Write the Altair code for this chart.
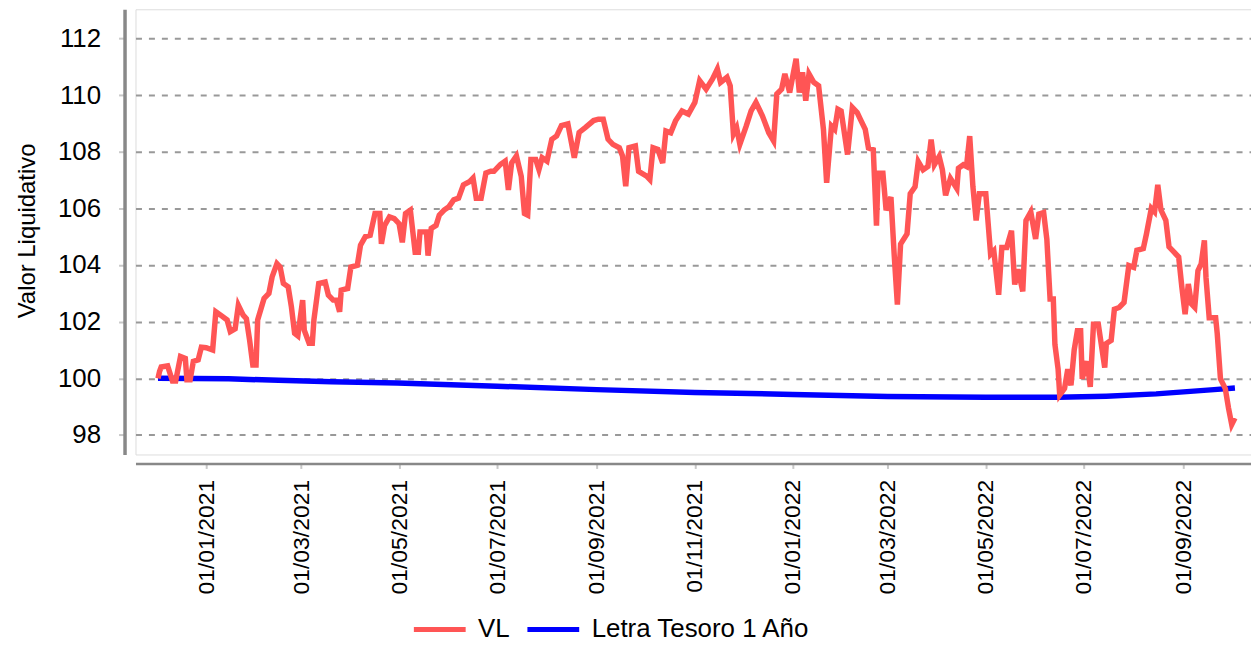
import altair as alt
import pandas as pd

# ---- VL (valor liquidativo) series ----
vl_dates = [
    "2020-12-02", "2020-12-03", "2020-12-04", "2020-12-08", "2020-12-11", "2020-12-13",
    "2020-12-16", "2020-12-19", "2020-12-20", "2020-12-22", "2020-12-24", "2020-12-27",
    "2020-12-29", "2021-01-01", "2021-01-05", "2021-01-07", "2021-01-10", "2021-01-14",
    "2021-01-16", "2021-01-19", "2021-01-21", "2021-01-24", "2021-01-26", "2021-01-28",
    "2021-01-30", "2021-02-01", "2021-02-02", "2021-02-06", "2021-02-09", "2021-02-11",
    "2021-02-14", "2021-02-16", "2021-02-18", "2021-02-21", "2021-02-23", "2021-02-25",
    "2021-02-27", "2021-03-02", "2021-03-03", "2021-03-06", "2021-03-08", "2021-03-09",
    "2021-03-12", "2021-03-16", "2021-03-18", "2021-03-21", "2021-03-23", "2021-03-25",
    "2021-03-26", "2021-03-30", "2021-04-01", "2021-04-05", "2021-04-07", "2021-04-10",
    "2021-04-13", "2021-04-16", "2021-04-19", "2021-04-20", "2021-04-22", "2021-04-25",
    "2021-04-28", "2021-05-01", "2021-05-03", "2021-05-05", "2021-05-08", "2021-05-11",
    "2021-05-13", "2021-05-14", "2021-05-18", "2021-05-19", "2021-05-21", "2021-05-24",
    "2021-05-26", "2021-05-29", "2021-06-01", "2021-06-04", "2021-06-07", "2021-06-10",
    "2021-06-14", "2021-06-16", "2021-06-18", "2021-06-21", "2021-06-24", "2021-06-27",
    "2021-06-29", "2021-07-03", "2021-07-06", "2021-07-08", "2021-07-10", "2021-07-13",
    "2021-07-16", "2021-07-18", "2021-07-20", "2021-07-22", "2021-07-25", "2021-07-27",
    "2021-07-29", "2021-08-01", "2021-08-04", "2021-08-07", "2021-08-10", "2021-08-14",
    "2021-08-18", "2021-08-21", "2021-08-25", "2021-08-30", "2021-09-02", "2021-09-05",
    "2021-09-08", "2021-09-11", "2021-09-15", "2021-09-17", "2021-09-19", "2021-09-21",
    "2021-09-25", "2021-09-27", "2021-10-02", "2021-10-04", "2021-10-06", "2021-10-09",
    "2021-10-12", "2021-10-14", "2021-10-17", "2021-10-20", "2021-10-24", "2021-10-28",
    "2021-11-01", "2021-11-04", "2021-11-08", "2021-11-12", "2021-11-15", "2021-11-17",
    "2021-11-21", "2021-11-23", "2021-11-25", "2021-11-27", "2021-11-29", "2021-12-03",
    "2021-12-06", "2021-12-09", "2021-12-13", "2021-12-17", "2021-12-20", "2021-12-22",
    "2021-12-25", "2021-12-27", "2021-12-30", "2022-01-01", "2022-01-03", "2022-01-05",
    "2022-01-07", "2022-01-09", "2022-01-11", "2022-01-14", "2022-01-17", "2022-01-20",
    "2022-01-22", "2022-01-25", "2022-01-27", "2022-01-29", "2022-01-31", "2022-02-04",
    "2022-02-07", "2022-02-10", "2022-02-12", "2022-02-15", "2022-02-17", "2022-02-20",
    "2022-02-22", "2022-02-23", "2022-02-26", "2022-02-28", "2022-03-03", "2022-03-05",
    "2022-03-07", "2022-03-09", "2022-03-13", "2022-03-15", "2022-03-18", "2022-03-20",
    "2022-03-23", "2022-03-26", "2022-03-28", "2022-03-30", "2022-04-02", "2022-04-04",
    "2022-04-06", "2022-04-09", "2022-04-13", "2022-04-14", "2022-04-17", "2022-04-19",
    "2022-04-21", "2022-04-23", "2022-04-25", "2022-04-27", "2022-05-01", "2022-05-04",
    "2022-05-06", "2022-05-09", "2022-05-11", "2022-05-14", "2022-05-17", "2022-05-19",
    "2022-05-21", "2022-05-24", "2022-05-26", "2022-05-29", "2022-06-01", "2022-06-03",
    "2022-06-06", "2022-06-08", "2022-06-10", "2022-06-12", "2022-06-13", "2022-06-15",
    "2022-06-16", "2022-06-19", "2022-06-21", "2022-06-23", "2022-06-25", "2022-06-27",
    "2022-06-29", "2022-06-30", "2022-07-03", "2022-07-05", "2022-07-07", "2022-07-10",
    "2022-07-14", "2022-07-15", "2022-07-18", "2022-07-20", "2022-07-23", "2022-07-26",
    "2022-07-29", "2022-08-01", "2022-08-03", "2022-08-07", "2022-08-09", "2022-08-12",
    "2022-08-14", "2022-08-16", "2022-08-18", "2022-08-21", "2022-08-23", "2022-08-26",
    "2022-08-29", "2022-08-31", "2022-09-02", "2022-09-04", "2022-09-06", "2022-09-08",
    "2022-09-10", "2022-09-12", "2022-09-14", "2022-09-15", "2022-09-17", "2022-09-21",
    "2022-09-22", "2022-09-24", "2022-09-27", "2022-09-29", "2022-10-01", "2022-10-03",
]
vl_values = [
    100.0, 100.25, 100.4, 100.44, 99.9, 99.9,
    100.77, 100.7, 99.95, 99.95, 100.6, 100.65,
    101.1, 101.08, 101.0, 102.35, 102.23, 102.06,
    101.65, 101.75, 102.58, 102.23, 102.1, 101.35,
    100.47, 100.47, 102.06, 102.82, 103.0, 103.58,
    104.05, 103.93, 103.35, 103.23, 102.52, 101.59,
    101.5, 102.76, 101.7, 101.24, 101.24, 102.06,
    103.35, 103.4, 102.94, 102.76, 102.76, 102.35,
    103.11, 103.17, 103.93, 103.99, 104.7, 105.0,
    105.05, 105.82, 105.82, 104.75, 105.4, 105.7,
    105.64, 105.46, 104.8, 105.82, 105.94, 104.45,
    104.45, 105.17, 105.17, 104.33, 105.29, 105.4,
    105.76, 105.94, 106.06, 106.3, 106.36, 106.83,
    106.95, 107.07, 106.36, 106.36, 107.25, 107.31,
    107.31, 107.55, 107.67, 106.65, 107.6, 107.85,
    107.13, 105.82, 105.76, 107.73, 107.73, 107.37,
    107.79, 107.67, 108.44, 108.56, 108.92, 108.98,
    107.79, 108.68, 108.86, 109.1, 109.15, 109.15,
    108.44, 108.26, 108.14, 107.85, 106.78, 108.14,
    108.2, 107.31, 107.14, 107.02, 108.14, 108.08,
    107.6, 108.73, 108.67, 109.09, 109.44, 109.33,
    109.74, 110.51, 110.21, 110.57, 110.92, 110.45,
    110.63, 110.33, 108.62, 108.85, 108.26, 108.91,
    109.44, 109.74, 109.27, 108.67, 108.38, 110.04,
    110.21, 110.75, 110.09, 110.69, 111.28, 110.09,
    110.8, 109.8, 110.75, 110.45, 110.33, 108.79,
    106.9, 108.91, 108.79, 109.5, 109.44, 107.9,
    109.56, 109.38, 109.14, 108.79, 108.13, 108.07,
    105.39, 107.24, 107.24, 105.93, 106.4, 104.38,
    102.6, 104.74, 105.1, 106.52, 106.76, 107.65,
    107.36, 107.48, 108.43, 107.54, 107.83, 107.36,
    106.46, 107.06, 106.7, 107.42, 107.54, 107.48,
    108.55, 106.76, 105.57, 106.52, 106.52, 104.38,
    104.5, 102.95, 104.62, 104.62, 105.21, 103.31,
    103.85, 103.07, 105.57, 105.87, 104.92, 105.8,
    105.85, 104.9, 102.8, 102.8, 101.2, 100.32,
    99.41, 99.64, 100.32, 99.75, 101.0, 101.68,
    101.68, 99.98, 100.6, 99.7, 101.91, 101.91,
    100.38, 101.23, 101.34, 102.44, 102.5, 102.68,
    103.98, 103.92, 104.52, 104.58, 105.11, 106.0,
    105.88, 106.83, 105.94, 105.58, 104.64, 104.46,
    104.28, 103.21, 102.26, 103.33, 102.62, 102.5,
    103.8, 104.04, 104.87, 103.56, 102.14, 102.14,
    101.57, 99.98, 99.64, 98.95, 98.37, 98.6,
]

# ---- Letra Tesoro 1 Año series ----
lt_dates = [
    "2020-12-02", "2021-01-15", "2021-02-15", "2021-03-20", "2021-04-30",
    "2021-07-01", "2021-09-01", "2021-11-01", "2022-01-01", "2022-03-01",
    "2022-05-01", "2022-06-15", "2022-07-15", "2022-08-15", "2022-09-01",
    "2022-09-20", "2022-10-03",
]
lt_values = [
    100.0, 99.98, 99.93, 99.88, 99.83,
    99.72, 99.6, 99.5, 99.43, 99.36,
    99.33, 99.33, 99.37, 99.45, 99.52,
    99.6, 99.66,
]

series_names = ["VL", "Letra Tesoro 1 Año"]
series_colors = ["#FF5555", "#0000FF"]
y_ticks = [98, 100, 102, 104, 106, 108, 110, 112]
x_tick_dates = [(2021, 1), (2021, 3), (2021, 5), (2021, 7), (2021, 9), (2021, 11),
                (2022, 1), (2022, 3), (2022, 5), (2022, 7), (2022, 9)]

vl_df = pd.DataFrame({"fecha": vl_dates, "valor": vl_values, "serie": series_names[0]})
lt_df = pd.DataFrame({"fecha": lt_dates, "valor": lt_values, "serie": series_names[1]})

FONT = "Liberation Sans"

color = alt.Color(
    "serie:N",
    scale=alt.Scale(domain=series_names, range=series_colors),
    legend=alt.Legend(
        title=None, orient="none", direction="horizontal",
        legendX=277, legendY=594,
        symbolType="stroke", symbolSize=2704, symbolStrokeWidth=5,
        labelFont=FONT, labelFontSize=26, labelColor="black", labelLimit=500,
        labelOffset=10, columnPadding=7, padding=0,
    ),
)

x = alt.X(
    "fecha:T",
    scale=alt.Scale(
        type="utc",
        domain=[alt.DateTime(year=2020, month=11, date=18, utc=True),
                alt.DateTime(year=2022, month=10, date=13, utc=True)],
    ),
    axis=alt.Axis(
        title=None,
        values=[alt.DateTime(year=yy, month=mm, date=1, utc=True) for yy, mm in x_tick_dates],
        format="%d/%m/%Y", labelAngle=270, labelAlign="right", labelBaseline="middle",
        labelFont=FONT, labelFontSize=23, labelColor="black", labelPadding=11,
        labelOverlap=False, labelFlush=False,
        offset=9, domainColor="#888888", domainWidth=2.5,
        tickColor="#c8c8c8", tickSize=5, tickWidth=2, grid=False,
    ),
)

y = alt.Y(
    "valor:Q",
    scale=alt.Scale(domain=[97.31, 113.03], nice=False, zero=False),
    axis=alt.Axis(
        title="Valor Liquidativo", titleFont=FONT, titleFontSize=24, titleFontWeight="normal",
        titleColor="black", titleAngle=270, titleX=-90, titleY=222,
        titleAlign="center", titleBaseline="alphabetic",
        values=y_ticks, format="d",
        labelFont=FONT, labelFontSize=26, labelColor="black", labelPadding=18,
        offset=11, domainColor="#888888", domainWidth=3.5,
        tickColor="#c8c8c8", tickSize=6, tickWidth=2,
        grid=True, gridColor="#999999", gridWidth=2, gridDash=[6, 7],
    ),
)

lt_line = alt.Chart(lt_df).mark_line(strokeWidth=5.5, interpolate="linear").encode(
    x=x, y=y, color=color
)
vl_line = alt.Chart(vl_df).mark_line(strokeWidth=5.5, interpolate="linear").encode(
    x=x, y=y, color=color
)

chart = alt.layer(lt_line, vl_line).properties(
    width=1120,
    height=447,
    autosize=alt.AutoSizeParams(type="none"),
    padding={"left": 128, "top": 0, "right": 0, "bottom": 187},
).configure_view(stroke=None).configure(background="white")

chart.save("out.html", embed_options={"renderer": "svg", "actions": False})
